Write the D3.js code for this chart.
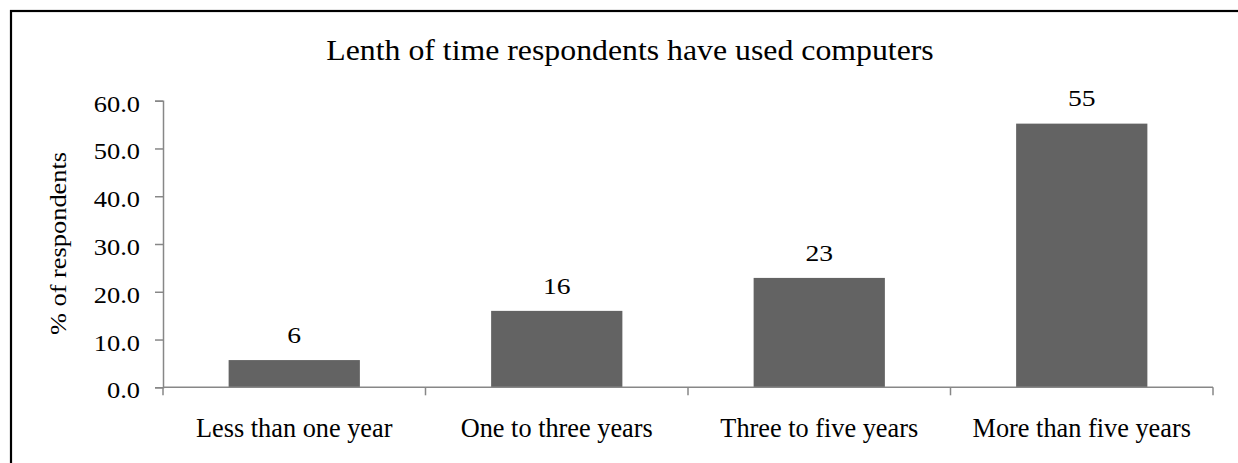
<!DOCTYPE html>
<html><head><meta charset="utf-8">
<script src="https://cdn.jsdelivr.net/npm/d3@7"></script>
<style>html,body{margin:0;padding:0;background:#fff;overflow:hidden}</style>
</head><body>
<svg id="c" width="1238" height="463"></svg>
<script>
const categories = ["Less than one year","One to three years","Three to five years","More than five years"];
const values = [5.7, 16.0, 22.9, 55.2];
const yTicks = [0,10,20,30,40,50,60];
const title = "Lenth of time respondents have used computers";
const yLabel = "% of respondents";

const svg = d3.select("#c");
const font = "Liberation Serif, Times New Roman, serif";
const axisColor = "#878787";

// outer border (top and left visible)
svg.append("rect").attr("x",11).attr("y",11).attr("width",1260).attr("height",480)
  .attr("fill","none").attr("stroke","#000").attr("stroke-width",2.2);

const x = d3.scaleBand().domain(categories).range([163,1213]).paddingInner(0.5).paddingOuter(0.25);
const y = d3.scaleLinear().domain([0,60]).range([387.3,100.7]);

// y axis
const ya = svg.append("g").attr("transform","translate(163,0)")
  .call(d3.axisLeft(y).tickValues(yTicks).tickFormat(d3.format(".1f")).tickSize(8).tickPadding(15));
ya.select(".domain").attr("stroke",axisColor).attr("stroke-width",1.5);
ya.selectAll(".tick line").attr("stroke",axisColor).attr("stroke-width",1.5);
ya.selectAll(".tick text")
  .attr("x",0).attr("dy",null).attr("transform","translate(-23,10.5) scale(1.15,1)")
  .style("font-family",font).style("font-size","23px").attr("fill","#000");

// bars
svg.append("g").selectAll("rect").data(values).join("rect")
  .attr("x",(d,i)=>x(categories[i])).attr("width",x.bandwidth())
  .attr("y",d=>y(d)).attr("height",d=>y(0)-y(d))
  .attr("fill","#636363");

// x axis line and boundary ticks
const xb = [x.range()[0], ...categories.slice(1).map(c=>x(c)-x.step()*x.paddingInner()/2), x.range()[1]];
svg.append("line").attr("x1",x.range()[0]).attr("x2",x.range()[1]).attr("y1",y(0)).attr("y2",y(0))
  .attr("stroke",axisColor).attr("stroke-width",1.5);
svg.append("g").selectAll("line").data(xb).join("line")
  .attr("x1",d=>d).attr("x2",d=>d).attr("y1",y(0)).attr("y2",y(0)+8)
  .attr("stroke",axisColor).attr("stroke-width",1.5);

// category labels
svg.append("g").selectAll("text").data(categories).join("text")
  .attr("x",d=>x(d)+x.bandwidth()/2).attr("y",437)
  .attr("text-anchor","middle").style("font-family",font).style("font-size","26.3px").text(d=>d);

// data labels
svg.append("g").selectAll("text").data(values).join("text")
  .attr("transform",(d,i)=>`translate(${x(categories[i])+x.bandwidth()/2},${y(d)-17.3}) scale(1.2,1)`)
  .attr("text-anchor","middle").style("font-family",font).style("font-size","23px")
  .text(d=>d3.format(".0f")(d));

// title
svg.append("text").attr("transform","translate(630,60) scale(1.06,1)").attr("text-anchor","middle")
  .style("font-family",font).style("font-size","30px").text(title);

// y label
svg.append("text").attr("transform","translate(66,243.5) rotate(-90) scale(1.1,1)").attr("text-anchor","middle")
  .style("font-family",font).style("font-size","24px").text(yLabel);
</script>
</body></html>
